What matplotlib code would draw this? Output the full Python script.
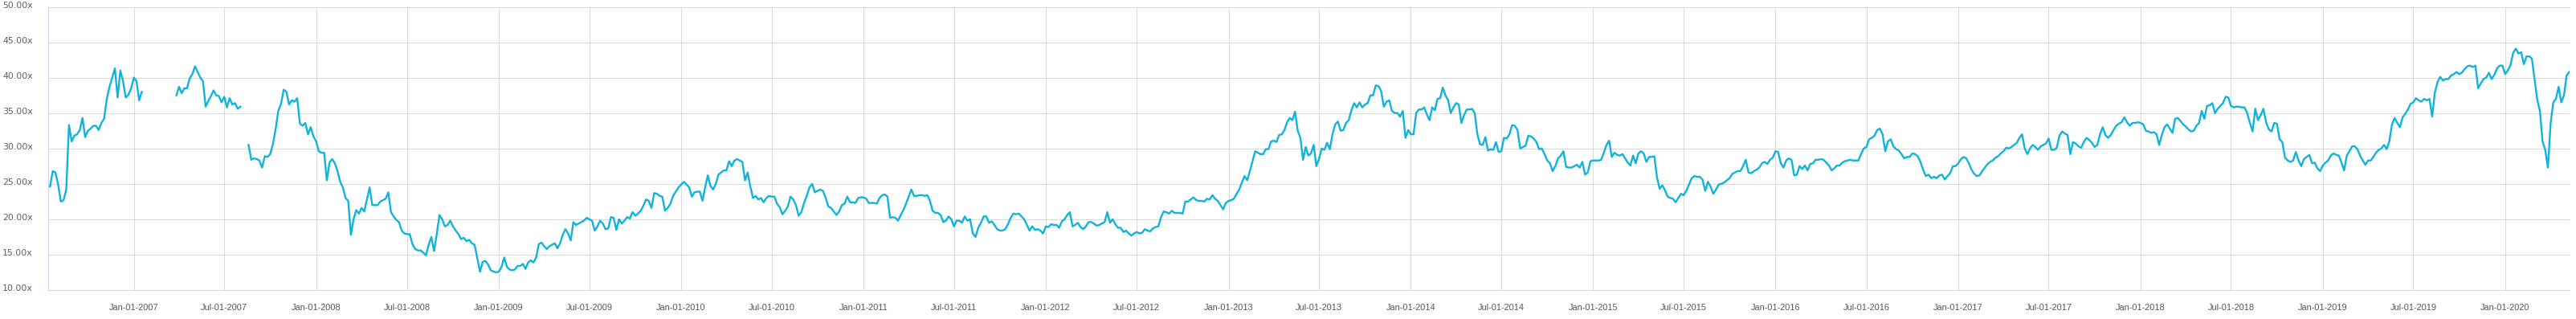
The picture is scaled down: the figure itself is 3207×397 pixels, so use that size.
import numpy as np
import pandas as pd
import matplotlib
matplotlib.use("Agg")
import matplotlib.pyplot as plt
import matplotlib.dates as mdates
from matplotlib.ticker import FixedLocator, FuncFormatter
from matplotlib.transforms import ScaledTranslation

nan = np.nan

# P/E multiple, read roughly every ~5 days; each list covers one half-year (34 slots)
pe_2006h2 = [nan, nan, 24.8, 24.6, 26.8, 26.6, 24.9, 22.5, 22.7, 24.2, 33.3, 31.0, 31.8, 32.0, 32.6, 34.3, 31.6,
             32.5, 32.8, 33.2, 33.2, 32.6, 33.6, 34.2, 37.0, 38.7, 40.0, 41.3, 37.2, 41.0, 39.5, 37.2, 37.6, 38.5]
pe_2007h1 = [40.0, 39.5, 36.8, 38.0, nan, nan, nan, nan, nan, nan, nan, nan, nan, nan, nan, nan,
             37.5, 38.7, 37.8, 38.5, 38.5, 39.9, 40.5, 41.6, 40.8, 40.0, 39.5, 35.9, 36.7, 37.4, 38.2, 37.5, 37.4, 36.5]
pe_2007h2 = [37.3, 35.8, 37.1, 36.2, 36.4, 35.6, 35.9, nan, nan, 30.5, 28.4, 28.6, 28.5, 28.3, 27.3, 28.9, 28.8,
             29.2, 30.6, 32.7, 35.3, 36.3, 38.3, 38.0, 36.2, 36.8, 36.6, 37.1, 33.5, 33.2, 33.6, 32.0, 33.0, 31.7]
pe_2008h1 = [31.0, 29.6, 29.4, 29.4, 25.5, 28.0, 28.5, 27.9, 26.8, 25.3, 24.5, 23.0, 22.6, 17.8, 20.0, 21.3, 20.8,
             21.6, 21.1, 22.8, 24.5, 22.0, 22.0, 22.0, 22.5, 22.7, 22.9, 23.8, 21.0, 20.4, 19.9, 19.6, 18.4, 18.0]
pe_2008h2 = [17.9, 17.9, 16.5, 15.8, 15.6, 15.6, 15.3, 14.9, 16.4, 17.5, 15.5, 17.9, 20.6, 20.0, 19.0, 19.2, 19.8,
             19.0, 18.4, 17.9, 17.2, 17.4, 16.9, 17.1, 16.6, 16.4, 14.5, 12.6, 14.0, 14.1, 13.6, 12.8, 12.6, 12.5]
pe_2009h1 = [12.6, 13.3, 14.6, 13.3, 12.9, 12.8, 12.9, 13.4, 13.4, 13.7, 13.0, 13.9, 14.2, 13.9, 14.6, 16.5, 16.7,
             16.2, 15.8, 16.2, 16.4, 16.6, 15.9, 16.6, 17.8, 18.6, 18.0, 17.0, 19.6, 19.2, 19.4, 19.6, 19.8, 20.2]
pe_2009h2 = [20.0, 19.8, 18.4, 19.0, 19.8, 19.4, 18.6, 18.7, 20.3, 20.2, 18.5, 20.0, 19.4, 19.8, 20.3, 20.1, 21.0,
             20.5, 20.8, 21.2, 21.9, 22.8, 22.6, 21.6, 23.7, 23.6, 23.3, 23.2, 21.2, 21.6, 22.2, 23.3, 23.9, 24.5]
pe_2010h1 = [24.9, 25.3, 24.9, 24.5, 23.2, 23.8, 23.9, 23.9, 22.6, 24.5, 26.2, 24.7, 24.2, 25.0, 26.3, 26.6, 26.9,
             26.9, 28.2, 27.5, 28.3, 28.5, 28.3, 28.1, 25.5, 26.6, 24.6, 23.0, 23.3, 22.8, 23.0, 22.4, 23.0, 23.3]
pe_2010h2 = [23.2, 23.2, 22.2, 21.7, 20.7, 21.2, 21.8, 23.2, 22.8, 22.0, 20.5, 21.0, 22.3, 23.3, 24.5, 25.0, 23.8,
             24.0, 24.2, 24.0, 23.0, 21.8, 21.6, 21.1, 20.6, 21.1, 22.0, 22.2, 23.2, 22.4, 22.4, 22.3, 23.0, 23.1]
pe_2011h1 = [23.1, 22.9, 22.3, 22.3, 22.3, 22.2, 23.0, 23.4, 23.5, 23.2, 20.2, 20.3, 20.2, 19.8, 20.6, 21.3, 22.2,
             23.2, 24.2, 23.3, 23.3, 23.4, 23.4, 23.3, 23.4, 22.6, 21.2, 20.9, 20.9, 20.6, 19.6, 19.8, 20.4, 20.0]
pe_2011h2 = [19.0, 19.8, 19.8, 19.5, 20.4, 19.8, 20.0, 18.0, 17.5, 18.8, 19.5, 20.4, 20.4, 19.5, 19.7, 19.2, 18.6,
             18.4, 18.4, 18.6, 19.3, 20.2, 20.8, 20.7, 20.8, 20.4, 20.0, 19.2, 18.4, 19.0, 18.5, 18.6, 18.4, 18.0]
pe_2012h1 = [19.0, 18.9, 19.3, 19.2, 19.2, 18.8, 19.7, 20.0, 20.6, 21.0, 19.0, 19.2, 19.5, 18.9, 18.6, 19.0, 19.6,
             19.6, 19.4, 19.1, 19.2, 19.4, 19.6, 21.0, 19.5, 20.0, 19.3, 18.8, 18.8, 18.2, 18.4, 18.0, 17.7, 18.0]
pe_2012h2 = [18.2, 18.0, 18.1, 18.6, 18.4, 18.3, 18.7, 18.9, 19.0, 20.3, 21.1, 21.0, 20.8, 21.2, 20.9, 20.9, 20.9,
             20.8, 22.5, 22.5, 22.8, 23.1, 22.7, 22.6, 22.6, 22.5, 22.9, 22.8, 23.4, 22.9, 22.6, 22.0, 21.4, 22.3]
pe_2013h1 = [22.6, 22.7, 22.9, 23.6, 24.2, 25.2, 26.1, 25.5, 26.8, 28.2, 29.6, 29.4, 29.2, 29.2, 29.9, 29.9, 31.0,
             31.1, 30.9, 31.9, 32.0, 32.6, 33.7, 34.3, 34.0, 35.2, 32.5, 31.5, 28.4, 30.2, 29.0, 29.3, 30.5, 27.5]
pe_2013h2 = [28.5, 30.0, 29.8, 30.8, 29.9, 32.0, 33.4, 33.8, 32.5, 32.6, 33.6, 34.0, 35.4, 36.4, 35.8, 36.5, 35.8,
             36.2, 36.4, 37.5, 37.5, 38.9, 38.8, 38.1, 35.9, 36.6, 36.8, 35.3, 35.0, 35.0, 34.5, 35.3, 31.5, 32.6]
pe_2014h1 = [32.0, 32.0, 35.0, 35.5, 35.5, 35.8, 34.8, 34.0, 35.8, 35.4, 37.0, 37.1, 38.6, 37.5, 36.8, 35.0, 35.8,
             36.4, 36.2, 33.6, 34.7, 35.5, 35.5, 35.6, 35.0, 32.0, 30.6, 30.5, 31.6, 29.7, 29.9, 29.8, 30.9, 29.5]
pe_2014h2 = [29.6, 31.5, 31.4, 32.0, 33.3, 33.2, 32.6, 30.0, 30.2, 30.4, 31.8, 31.7, 31.4, 30.9, 29.9, 30.0, 29.2,
             28.3, 27.9, 26.8, 27.5, 28.6, 29.0, 29.6, 27.4, 27.3, 27.3, 27.5, 27.7, 27.3, 28.1, 26.3, 26.6, 28.2]
pe_2015h1 = [28.3, 28.3, 28.3, 28.4, 29.4, 30.5, 31.1, 28.8, 29.4, 29.1, 29.0, 29.2, 28.6, 28.0, 27.6, 29.0, 27.9,
             29.3, 29.6, 29.3, 28.1, 28.8, 28.8, 28.9, 25.9, 24.3, 24.8, 24.1, 23.2, 23.0, 22.9, 22.4, 23.0, 23.6]
pe_2015h2 = [23.4, 24.0, 24.9, 25.8, 26.1, 26.0, 26.0, 25.6, 24.0, 25.3, 24.6, 23.6, 24.2, 24.9, 25.0, 25.2, 25.5,
             25.8, 26.4, 26.6, 26.8, 26.8, 27.5, 28.4, 26.6, 26.5, 26.8, 27.0, 27.3, 27.9, 28.1, 27.8, 28.4, 28.7]
pe_2016h1 = [29.6, 29.5, 27.9, 27.3, 28.3, 28.6, 28.4, 26.2, 26.3, 27.5, 27.1, 27.6, 26.9, 27.8, 27.9, 28.4, 28.4,
             28.5, 28.4, 28.0, 27.6, 26.9, 27.2, 27.6, 27.6, 28.0, 28.2, 28.3, 28.4, 28.3, 28.3, 28.3, 29.2, 30.0]
pe_2016h2 = [30.2, 31.3, 31.5, 31.8, 32.6, 32.8, 32.0, 29.6, 31.0, 31.3, 30.3, 29.9, 29.7, 29.2, 28.6, 28.8, 28.8,
             29.3, 29.2, 28.9, 28.1, 27.0, 26.1, 26.3, 25.8, 26.0, 25.8, 26.2, 26.3, 25.6, 26.1, 26.5, 27.5, 27.5]
pe_2017h1 = [27.9, 28.5, 28.8, 28.6, 27.9, 27.0, 26.4, 26.1, 26.2, 26.8, 27.3, 27.8, 28.1, 28.3, 28.7, 28.9, 29.3,
             29.6, 30.1, 30.0, 30.2, 30.5, 30.8, 31.5, 32.0, 30.0, 29.2, 30.0, 30.5, 30.2, 29.8, 30.3, 30.5, 30.7]
pe_2017h2 = [31.4, 29.8, 29.8, 30.1, 31.8, 32.4, 32.1, 31.9, 29.2, 30.9, 30.7, 30.3, 30.1, 30.9, 31.5, 31.2, 30.8,
             30.2, 30.5, 32.0, 33.0, 31.9, 31.5, 31.9, 32.6, 33.2, 33.5, 33.7, 34.4, 33.7, 33.2, 33.6, 33.6, 33.7]
pe_2018h1 = [33.6, 33.4, 32.5, 32.4, 32.2, 32.3, 32.0, 30.5, 31.9, 33.0, 33.4, 32.8, 32.2, 34.2, 34.3, 33.9, 33.4,
             33.1, 32.7, 32.4, 32.5, 33.2, 33.6, 35.3, 34.2, 36.0, 36.1, 36.4, 35.0, 35.6, 36.0, 36.4, 37.3, 37.2]
pe_2018h2 = [36.0, 35.8, 35.9, 35.9, 35.8, 35.8, 35.0, 33.6, 32.4, 35.6, 34.0, 34.7, 35.6, 33.7, 32.7, 32.4, 33.6,
             33.5, 31.3, 30.9, 28.7, 28.3, 28.1, 28.3, 29.5, 28.3, 27.5, 28.5, 28.8, 29.1, 27.9, 28.0, 27.2, 26.8]
pe_2019h1 = [27.6, 28.0, 28.3, 29.0, 29.3, 29.1, 29.0, 28.0, 26.9, 29.0, 29.6, 30.3, 30.3, 29.9, 29.0, 28.3, 27.7,
             28.3, 28.3, 28.8, 29.4, 29.8, 30.0, 30.5, 29.9, 31.0, 33.4, 34.3, 33.6, 33.0, 34.4, 34.9, 35.5, 36.3]
pe_2019h2 = [36.5, 37.1, 36.8, 36.6, 37.0, 36.8, 37.0, 34.5, 37.9, 39.4, 40.1, 39.6, 39.8, 39.8, 40.3, 40.5, 40.8,
             40.5, 40.7, 41.2, 41.6, 41.7, 41.5, 41.7, 38.5, 39.2, 39.8, 40.0, 40.7, 39.8, 40.4, 41.3, 41.7, 41.7]
pe_2020h1 = [40.5, 41.0, 41.8, 43.5, 44.1, 43.4, 43.6, 41.9, 43.0, 43.0, 42.7, 39.8, 36.9, 35.3, 31.0, 29.8, 27.3,
             33.5, 36.5, 37.0, 38.7, 36.5, 37.5, 40.3, 40.8]

half_year_starts = ["2006-07-01", "2007-01-01", "2007-07-01", "2008-01-01", "2008-07-01", "2009-01-01",
                    "2009-07-01", "2010-01-01", "2010-07-01", "2011-01-01", "2011-07-01", "2012-01-01",
                    "2012-07-01", "2013-01-01", "2013-07-01", "2014-01-01", "2014-07-01", "2015-01-01",
                    "2015-07-01", "2016-01-01", "2016-07-01", "2017-01-01", "2017-07-01", "2018-01-01",
                    "2018-07-01", "2019-01-01", "2019-07-01", "2020-01-01"]
half_year_values = [pe_2006h2, pe_2007h1, pe_2007h2, pe_2008h1, pe_2008h2, pe_2009h1, pe_2009h2,
                    pe_2010h1, pe_2010h2, pe_2011h1, pe_2011h2, pe_2012h1, pe_2012h2, pe_2013h1,
                    pe_2013h2, pe_2014h1, pe_2014h2, pe_2015h1, pe_2015h2, pe_2016h1, pe_2016h2,
                    pe_2017h1, pe_2017h2, pe_2018h1, pe_2018h2, pe_2019h1, pe_2019h2, pe_2020h1]
SLOTS = 34

dates, values = [], []
for start, vals in zip(half_year_starts, half_year_values):
    s = pd.Timestamp(start)
    e = s + pd.DateOffset(months=6)
    for k, v in enumerate(vals):
        dates.append(s + (e - s) * k / SLOTS)
        values.append(v)
dates = pd.to_datetime(dates)
values = np.array(values, dtype=float)

tick_dates = pd.date_range("2007-01-01", "2020-01-01", freq="6MS")
y_ticks = [10, 15, 20, 25, 30, 35, 40, 45, 50]

W, H = 3207, 397
fig = plt.figure(figsize=(W / 100, H / 100), dpi=100)
left, right, top, bottom = 60.3, 3199.0, 8.5, 361.0
ax = fig.add_axes([left / W, 1 - bottom / H, (right - left) / W, (bottom - top) / H])

ax.plot(dates, values, color="#0fb3db", linewidth=1.7, solid_joinstyle="round")

ax.set_xlim(pd.Timestamp("2006-07-14"), pd.Timestamp("2020-05-09"))
ax.set_ylim(10, 50)

ax.xaxis.set_major_locator(FixedLocator(mdates.date2num(tick_dates)))
ax.xaxis.set_major_formatter(mdates.DateFormatter("%b-%d-%Y"))
ax.yaxis.set_major_locator(FixedLocator(y_ticks))
ax.yaxis.set_major_formatter(FuncFormatter(lambda v, p: f"{v:.2f}x"))

ax.grid(True, color="#dadada", linewidth=0.75)
ax.set_axisbelow(True)
for s in ["top", "right"]:
    ax.spines[s].set_visible(False)
for s in ["left", "bottom"]:
    ax.spines[s].set_color("#ccd6eb")
    ax.spines[s].set_linewidth(0.75)

ax.tick_params(axis="both", length=0)
ax.tick_params(axis="x", pad=12, labelsize=7.9, labelcolor="#555555")
ax.tick_params(axis="y", pad=14, labelsize=7.9, labelcolor="#5e5e5e")
for lab in ax.get_xticklabels():
    lab.set_fontfamily(["Liberation Sans", "DejaVu Sans"])
shift = ScaledTranslation(0, 3 / 100, fig.dpi_scale_trans)
for lab in ax.get_yticklabels():
    lab.set_fontfamily(["DejaVu Sans"])
    lab.set_transform(lab.get_transform() + shift)

fig.savefig("out.png", dpi=100, facecolor="white")
